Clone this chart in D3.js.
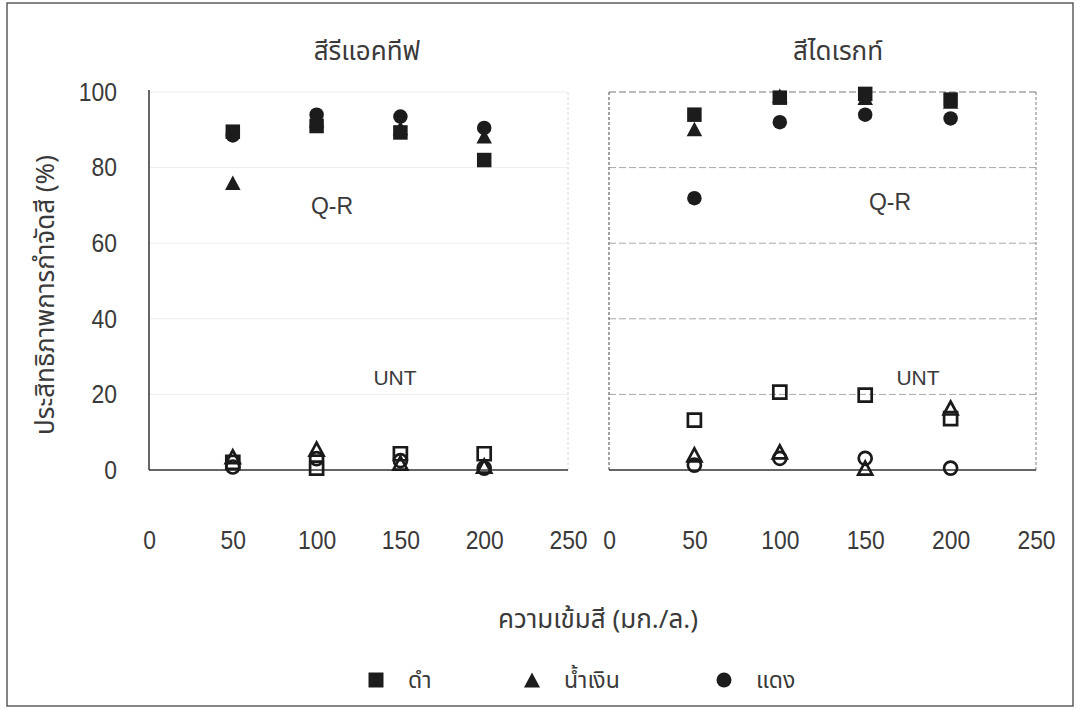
<!DOCTYPE html>
<html><head><meta charset="utf-8">
<script src="https://cdn.jsdelivr.net/npm/d3@7/dist/d3.min.js"></script>
<style>
body{margin:0;background:#fff}
text{font-family:"Liberation Sans","Arial",sans-serif;fill:#3a3a3a}
.th{font-family:"Noto Sans Thai","Loma","Garuda","Norasi","Tlwg Typo","DejaVu Sans",sans-serif}
</style>
</head><body>
<svg id="c" width="1084" height="720"></svg>
<script>
// ---------- data ----------
const concentrations = [50, 100, 150, 200];
const xTicks = [0, 50, 100, 150, 200, 250];
const yTicks = [0, 20, 40, 60, 80, 100];
const panelTitles = ["สีรีแอคทีฟ", "สีไดเรกท์"];
const seriesNames = ["ดำ", "น้ำเงิน", "แดง"];
const xTitle = "ความเข้มสี (มก./ล.)";
const yTitle = "ประสิทธิภาพการกำจัดสี (%)";
// reactive dyes
const reactiveQR_black = [89.5, 91, 89.3, 82];
const reactiveQR_blue  = [76, 92.5, 90.5, 88.3];
const reactiveQR_red   = [88.5, 94, 93.5, 90.5];
const reactiveUNT_black = [2, 0.5, 4.3, 4.3];
const reactiveUNT_blue  = [3.5, 5.5, 1.8, 1];
const reactiveUNT_red   = [0.8, 3, 2.5, 0.5];
// direct dyes
const directQR_black = [94, 98.5, 99.5, 98];
const directQR_blue  = [90.2, 99, 98.5, 97.5];
const directQR_red   = [71.9, 92, 94, 93];
const directUNT_black = [13.2, 20.6, 19.8, 13.6];
const directUNT_blue  = [4, 4.8, 0.5, 16.4];
const directUNT_red   = [1.3, 3.1, 3.1, 0.5];

const panels = [
  {title: panelTitles[0], x0: 149, x1: 568, tx: 367, qr: [332, 214], unt: [395, 385], gridColor: "#ededed", edge: "#dadada",
   qrData: [reactiveQR_black, reactiveQR_blue, reactiveQR_red],
   untData: [reactiveUNT_black, reactiveUNT_blue, reactiveUNT_red]},
  {title: panelTitles[1], x0: 609, x1: 1036, tx: 838, qr: [890, 210], unt: [918, 385], gridColor: "#a8a8a8", edge: "#808080",
   qrData: [directQR_black, directQR_blue, directQR_red],
   untData: [directUNT_black, directUNT_blue, directUNT_red]}
];

const svg = d3.select("#c");
const y = d3.scaleLinear().domain([0, 100]).range([470, 92]);
const numFont = '"Liberation Sans","Arial",sans-serif';

// outer frame
svg.append("rect").attr("x", 7).attr("y", 3).attr("width", 1066).attr("height", 703)
  .attr("fill", "none").attr("stroke", "#444").attr("stroke-width", 1.3);

const shapes = {
  square: s => `M${-s/2},${-s/2}h${s}v${s}h${-s}Z`,
  triangle: s => `M0,${-s/2}L${s/2+0.5},${s/2}L${-s/2-0.5},${s/2}Z`,
  circle: s => `M${s/2},0A${s/2},${s/2} 0 1 1 ${-s/2},0A${s/2},${s/2} 0 1 1 ${s/2},0Z`
};
const shapeOrder = ["square", "triangle", "circle"];

panels.forEach((p, pi) => {
  const x = d3.scaleLinear().domain([0, 250]).range([p.x0, p.x1]);
  const g = svg.append("g");
  // gridlines
  g.selectAll(".grid").data(yTicks.filter(t => t > 0)).join("line")
    .attr("x1", x(0)).attr("x2", x(250)).attr("y1", d => y(d)).attr("y2", d => y(d))
    .attr("stroke", d => (pi && d === 100) ? "#777" : p.gridColor).attr("stroke-width", 1)
    .attr("stroke-dasharray", pi ? "7,3" : null);
  // plot edges
  g.append("line").attr("x1", x(250)).attr("x2", x(250)).attr("y1", y(100)).attr("y2", y(0))
    .attr("stroke", p.edge).attr("stroke-dasharray", "3,2");
  g.append("line").attr("x1", x(0)).attr("x2", x(0)).attr("y1", y(100) - (pi ? 0 : 2)).attr("y2", y(0))
    .attr("stroke", pi ? "#666" : "#333").attr("stroke-width", pi ? 1.2 : 1.5).attr("stroke-dasharray", pi ? "3,2" : null);
  g.append("line").attr("x1", x(0)).attr("x2", x(250)).attr("y1", y(0)).attr("y2", y(0))
    .attr("stroke", "#333").attr("stroke-width", 1.5);

  // x axis tick labels
  const xa = d3.axisBottom(x).tickValues(xTicks).tickSize(0).tickPadding(0).tickFormat(d3.format("d"));
  const xg = g.append("g").attr("transform", `translate(0,${y(0)})`).call(xa);
  xg.select(".domain").remove();
  xg.selectAll("text").attr("y", 0).attr("dy", 0).attr("transform", "translate(0,79) scale(0.88,1)")
    .style("font-size", "26px").style("font-family", numFont).attr("fill", "#3a3a3a");

  // title
  g.append("text").attr("class", "th").attr("x", p.tx).attr("y", 60).attr("text-anchor", "middle")
    .style("font-size", "26px").text(p.title);
  g.append("text").attr("x", p.qr[0]).attr("y", p.qr[1]).attr("text-anchor", "middle")
    .style("font-size", "23px").text("Q-R");
  g.append("text").attr("x", p.unt[0]).attr("y", p.unt[1]).attr("text-anchor", "middle")
    .style("font-size", "21px").text("UNT");

  // markers
  p.untData.forEach((vals, si) => {
    g.selectAll(null).data(vals).join("path")
      .attr("transform", (d, i) => `translate(${x(concentrations[i])},${y(d)})`)
      .attr("d", shapes[shapeOrder[si]](13))
      .attr("fill", "none").attr("stroke", "#1a1a1a").attr("stroke-width", 2.7);
  });
  p.qrData.forEach((vals, si) => {
    g.selectAll(null).data(vals).join("path")
      .attr("transform", (d, i) => `translate(${x(concentrations[i])},${y(d)})`)
      .attr("d", shapes[shapeOrder[si]](14.5))
      .attr("fill", "#1c1c1c");
  });
});

// y axis labels
const ya = d3.axisLeft(y).tickValues(yTicks).tickSize(0).tickPadding(0);
const yg = svg.append("g").attr("transform", "translate(117,0)").call(ya);
yg.select(".domain").remove();
yg.selectAll("text").attr("x", 0).attr("transform", "scale(0.88,1)").style("font-size", "26px")
  .style("font-family", numFont).attr("fill", "#3a3a3a");

// axis titles
svg.append("text").attr("class", "th").attr("transform", "translate(54,295) rotate(-90)")
  .attr("text-anchor", "middle").style("font-size", "26px").text(yTitle);
svg.append("text").attr("class", "th").attr("x", 598).attr("y", 628)
  .attr("text-anchor", "middle").style("font-size", "26px").text(xTitle);

// legend
const legendX = [376, 532, 724];
const lg = svg.append("g");
seriesNames.forEach((n, i) => {
  lg.append("path").attr("transform", `translate(${legendX[i]},680)`)
    .attr("d", shapes[shapeOrder[i]](15)).attr("fill", "#1c1c1c");
  lg.append("text").attr("class", "th").attr("x", legendX[i] + 32).attr("y", 688)
    .style("font-size", "23px").text(n);
});
</script>
</body></html>
